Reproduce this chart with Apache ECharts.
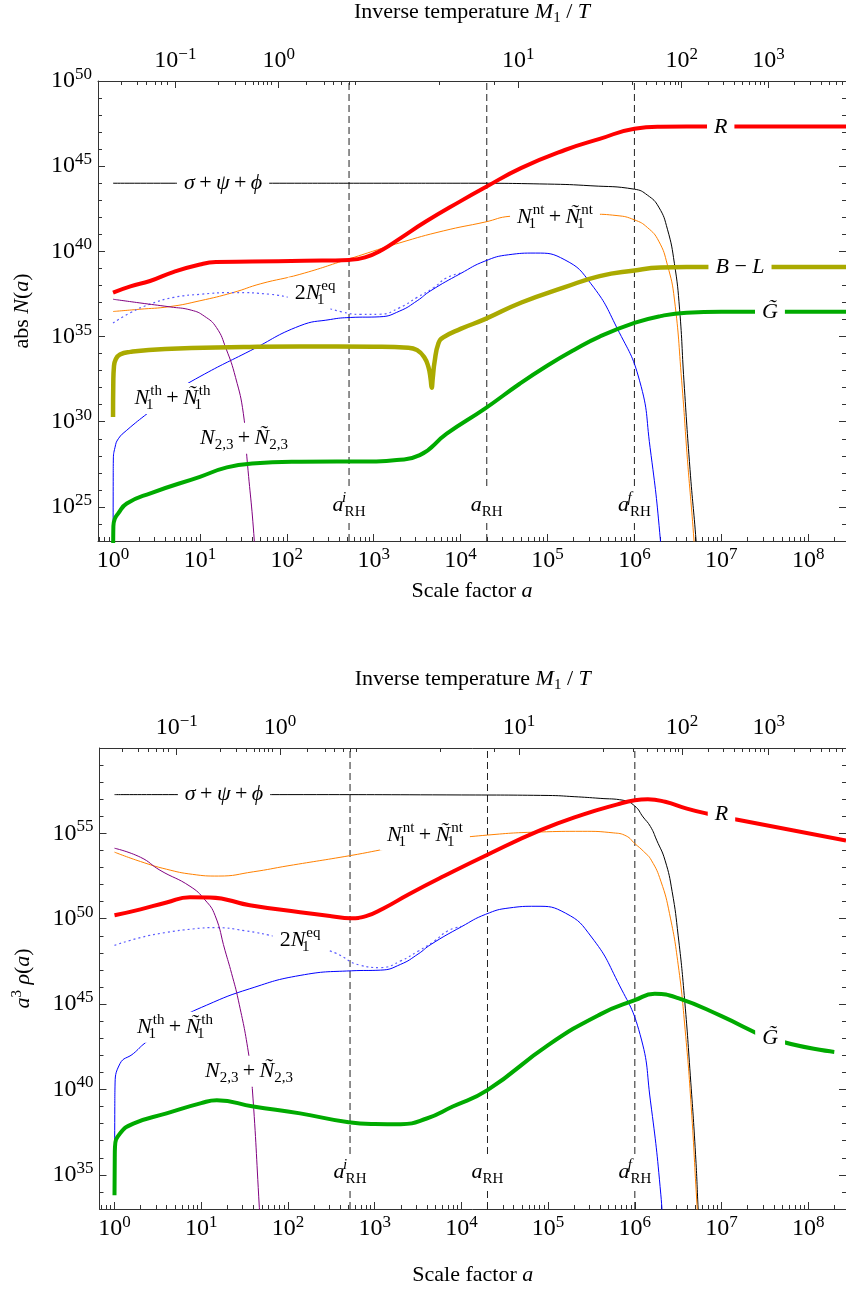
<!DOCTYPE html>
<html><head><meta charset="utf-8">
<script src="https://cdn.jsdelivr.net/npm/echarts@6/dist/echarts.min.js"></script>
<style>html,body{margin:0;padding:0;background:#fff}#c{width:846px;height:1293px}</style>
</head><body><div id="c"></div>
<script>
// ---------- DATA (pairs are [log10 a, log10 value]) ----------
// Panel 1: abs N(a)
const sigmaN = [[0,44.0],[1,44.0],[2,44.0],[3,44.0],[4,44.0],[5,43.95],[5.5,43.85],[6.0,43.65],[6.15,43.3],[6.28,42.6],[6.38,41.3],[6.46,39.3],[6.52,36.6],[6.57,32.4],[6.64,27.2],[6.71,23],[6.75,20]];
const radN = [[0,37.58],[0.2,37.95],[0.426,38.26],[0.7,38.8],[1.0,39.23],[1.185,39.37],[1.6,39.4],[2.2,39.45],[2.72,39.5],[2.9,39.65],[3.1,40.1],[3.3,40.75],[3.6,41.75],[4.0,42.95],[4.28,43.75],[4.7,44.9],[5.2,45.95],[5.6,46.6],[6.0,47.2],[6.3,47.32],[6.6,47.33],[8.435,47.33]];
const ntN = [[0,36.47],[0.3,36.6],[0.656,36.76],[1.0,37.1],[1.38,37.58],[1.7,38.1],[2.15,38.65],[2.73,39.58],[3.3,40.5],[3.8,41.2],[4.28,41.72],[4.57,42.06],[5.0,42.15],[5.5,42.18],[5.8,42.1],[6.0,41.85],[6.15,41.4],[6.28,40.6],[6.38,39.2],[6.46,37.2],[6.544,32.4],[6.61,27.8],[6.686,23],[6.72,20]];
const thN = [[0,20],[0.002,26.5],[0.0035,27.75],[0.023,28.5],[0.061,29.0],[0.158,29.5],[0.406,30.53],[0.7,31.7],[1.0,32.65],[1.58,34.17],[2.15,35.63],[2.5,36.0],[2.73,36.12],[3.07,36.16],[3.3,36.5],[3.5,37.1],[3.65,37.67],[4.0,38.7],[4.28,39.43],[4.55,39.8],[4.86,39.9],[5.2,39.5],[5.5,38.1],[5.8,35.5],[6.06,32.4],[6.18,28.5],[6.30,23.0],[6.33,20]];
const eqN = [[0,35.79],[0.2,36.4],[0.426,36.9],[0.7,37.3],[1.0,37.48],[1.38,37.58],[1.81,37.48],[2.1,37.2],[2.4,36.8],[2.63,36.45],[2.85,36.3],[3.07,36.31],[3.3,36.7],[3.5,37.3],[3.69,37.87],[3.84,38.45],[4.0,38.72]];
const heavyN = [[0,37.19],[0.3,36.98],[0.656,36.74],[0.9,36.55],[1.05,36.2],[1.19,35.53],[1.3,34.3],[1.41,32.6],[1.5,30.47],[1.54,27.94],[1.626,23.0],[1.64,21]];
const blN = [[0,30.28],[0.003,32.3],[0.01,33.2],[0.03,33.65],[0.08,33.95],[0.2,34.1],[0.6,34.27],[1.5,34.38],[2.15,34.42],[3.0,34.4],[3.4,34.35],[3.5,34.2],[3.58,33.8],[3.63,33.2],[3.655,32.5],[3.667,32.0],[3.68,32.6],[3.70,33.5],[3.745,34.6],[3.8,34.95],[4.0,35.45],[4.28,36.02],[4.7,37.0],[5.2,37.9],[5.6,38.55],[6.0,38.88],[6.3,39.05],[6.6,39.08],[8.435,39.08]];
const gravN = [[0,20],[0.002,23.0],[0.004,23.85],[0.02,24.3],[0.061,24.63],[0.158,25.2],[0.43,25.8],[1.0,26.77],[1.31,27.32],[1.6,27.55],[2.15,27.65],[3.0,27.67],[3.265,27.75],[3.53,28.04],[3.84,29.3],[4.28,30.77],[4.68,32.23],[5.0,33.3],[5.3,34.2],[5.6,35.0],[6.0,35.8],[6.3,36.2],[6.6,36.4],[7.0,36.45],[8.435,36.45]];

// Panel 2: a^3 rho(a)
const sigmaR = [[0,57.27],[2,57.27],[4,57.25],[5.0,57.22],[5.3,57.15],[5.6,57.05],[5.864,56.94],[6.0,56.6],[6.095,55.96],[6.18,55.4],[6.252,54.6],[6.348,53.43],[6.43,51.6],[6.5,49.0],[6.57,45.5],[6.64,40.8],[6.7,36.2],[6.73,33],[6.75,31]];
const radR = [[0,50.2],[0.3,50.55],[0.6,50.95],[0.87,51.26],[1.1,51.25],[1.56,50.79],[2.14,50.38],[2.5,50.15],[2.72,50.03],[2.9,50.15],[3.1,50.6],[3.4,51.45],[3.8,52.5],[4.3,53.75],[4.906,55.17],[5.4,56.1],[5.8,56.7],[6.0,56.94],[6.15,57.0],[6.35,56.85],[6.6,56.45],[6.829,56.16],[7.155,55.83],[8.435,54.58]];
const ntR = [[0,53.9],[0.3,53.35],[0.6,52.9],[0.9,52.6],[1.2,52.5],[1.6,52.75],[2.0,53.1],[2.72,53.7],[3.2,54.15],[3.7,54.55],[4.3,54.9],[4.9,55.08],[5.4,55.12],[5.75,55.03],[5.9,54.85],[6.0,54.4],[6.1,53.95],[6.19,53.43],[6.3,52.2],[6.4,50.3],[6.5,47.3],[6.58,43.5],[6.65,39],[6.72,33],[6.75,31]];
const thR = [[0,34],[0.0035,39.0],[0.0057,40.15],[0.063,41.51],[0.217,42.1],[0.352,42.72],[0.7,44.0],[1.063,44.94],[1.56,45.9],[2.14,46.68],[2.73,46.95],[3.07,46.99],[3.3,47.33],[3.5,47.93],[3.65,48.5],[4.0,49.53],[4.28,50.26],[4.55,50.63],[4.86,50.73],[5.2,50.33],[5.5,48.93],[5.8,46.33],[6.06,43.23],[6.18,39.33],[6.30,33.83],[6.33,31]];
const eqR = [[0,48.44],[0.3,48.9],[0.6,49.2],[0.9,49.4],[1.16,49.48],[1.5,49.3],[1.9,48.9],[2.3,48.35],[2.544,48.0],[2.83,47.28],[3.07,47.14],[3.3,47.53],[3.5,48.1],[3.69,48.7],[3.84,49.28],[4.0,49.55]];
const heavyR = [[0,54.13],[0.3,53.6],[0.525,52.84],[0.871,51.9],[1.044,51.1],[1.159,50.2],[1.274,48.15],[1.35,46.8],[1.428,45.23],[1.543,42.2],[1.589,40.06],[1.67,33.1],[1.68,32]];
const gravR = [[0,33.8],[0.003,36.0],[0.0057,36.64],[0.063,37.42],[0.217,38.0],[0.6,38.6],[1.0,39.2],[1.18,39.37],[1.6,39.0],[2.14,38.6],[2.7,38.08],[3.0,37.98],[3.3,37.97],[3.6,38.3],[3.9,39.0],[4.3,39.96],[5.0,42.6],[5.6,44.4],[6.0,45.23],[6.23,45.6],[6.5,45.35],[7.0,44.3],[7.56,43.0],[8.3,42.2]];

// reheating markers (scale factor a)
const aRH = [520, 2e4, 1e6];

// tick labels / positions
const bottomTickExps = [0,1,2,3,4,5,6,7,8];
const yTickExps1 = [25,30,35,40,45,50];
const yTickExps2 = [35,40,45,50,55,60];
const topTickLabels = ['\u22121','0','1','2','3'];
const topTickLogA = [0.717, 1.907, 4.664, 6.544, 7.543];
const topMinorLogA = [0.092,0.273,0.388,0.487,0.560,0.625,1.216,1.407,1.519,1.608,1.672,1.723,1.772,1.824,2.221,2.425,2.535,2.632,2.716,2.788,3.755,4.384,5.635,5.976,6.141,6.256,6.340,6.409,6.467,6.505,6.845,7.021,7.146,7.243,7.322,7.389,7.447,7.498,7.844,8.020,8.145,8.242,8.321,8.388];

// annotation anchors [key, log10 a, log10 value]
const labels1 = [['sig',1.266,44.0],['R',6.993,47.3],['nt',5.086,42.0],['BL',7.215,39.08],['G',7.56,36.45],['eq',2.325,37.56],['th',0.685,31.37],['n23',1.507,29.03],['ai',2.716,25.12],['a',4.301,25.12],['af',6.0,25.12]];
const labels2 = [['sig',1.263,57.27],['R',6.999,56.1],['nt',3.58,54.9],['G',7.56,43.0],['eq',2.14,48.74],['th',0.698,43.65],['n23',1.551,41.07],['ai',2.716,35.15],['a',4.301,35.15],['af',6.0,35.15]];

// ---------- CHART ----------
const FONT = 'Liberation Serif';
const AX = '#333';
const X_MIN = Math.pow(10,-0.173), X_MAX = Math.pow(10,8.435);
const P = arr => arr.map(p => [Math.pow(10,p[0]), Math.pow(10,p[1])]);
const E = e => Math.pow(10,e);

const tickRich = {
  b:{fontFamily:FONT,fontSize:24,lineHeight:30,color:'#000'},
  s:{fontFamily:FONT,fontSize:17,lineHeight:18,verticalAlign:'top',color:'#000'}
};
const nameRich = {
  n:{fontFamily:FONT,fontSize:22,lineHeight:28,color:'#000'},
  i:{fontFamily:FONT,fontSize:22,lineHeight:28,fontStyle:'italic',color:'#000'},
  u:{fontFamily:FONT,fontSize:15,lineHeight:22,verticalAlign:'bottom',color:'#000'},
  s:{fontFamily:FONT,fontSize:15,lineHeight:17,verticalAlign:'top',color:'#000'}
};
const labRich = {
  n:{fontFamily:FONT,fontSize:22,lineHeight:29,color:'#000'},
  i:{fontFamily:FONT,fontSize:22,lineHeight:29,fontStyle:'italic',color:'#000'},
  s:{fontFamily:FONT,fontSize:15,lineHeight:16,verticalAlign:'top',color:'#000'},
  sw:{fontFamily:FONT,fontSize:15,lineHeight:16,verticalAlign:'top',fontStyle:'italic',width:1,color:'#000'},
  u:{fontFamily:FONT,fontSize:15,lineHeight:21,verticalAlign:'bottom',color:'#000'},
  uw:{fontFamily:FONT,fontSize:15,lineHeight:21,verticalAlign:'bottom',width:1,color:'#000'}
};
const PL = '{n|\u2009+\u2009}';
const labText = {
  sig:'{i|σ}'+PL+'{i|ψ}'+PL+'{i|ϕ}',
  R:'{i|R}',
  nt:'{i|N}{uw|1}{s|nt}'+PL+'{i|Ñ}{uw|1}{s|nt}',
  BL:'{i|B}{n| − }{i|L}',
  G:'{i|G\u0303}',
  eq:'{n|2}{i|N}{uw|1}{s|eq}',
  th:'{i|N}{uw|1}{s|th}'+PL+'{i|Ñ}{uw|1}{s|th}',
  n23:'{i|N}{u|2,3}'+PL+'{i|Ñ}{u|2,3}',
  ai:'{i|a}{sw|i}{u|RH}',
  a:'{i|a}{u|RH}',
  af:'{i|a}{sw|f}{u|RH}'
};
const tightKeys = ['ai','a','af'];

const bottomMajor = bottomTickExps.map(E);
const bottomMinor = [];
for (let n=-1;n<=8;n++) for (let k=2;k<=9;k++){const v=k*Math.pow(10,n); if(v>X_MIN&&v<X_MAX) bottomMinor.push(v);}
const topMajor = topTickLogA.map(E);
const topMinor = topMinorLogA.map(E);

function expLabel(v){ return '{b|10}{s|'+Math.round(Math.log10(v))+'}'; }
function topLabel(v){
  const l = Math.log10(v); let bi=0, bd=1e9;
  topTickLogA.forEach((t,i)=>{const d=Math.abs(t-l); if(d<bd){bd=d;bi=i;}});
  return '{b|10}{s|'+topTickLabels[bi]+'}';
}

function xAxes(g, gapB, gapT){
  const c = {gridIndex:g,type:'log',logBase:10,min:X_MIN,max:X_MAX,splitLine:{show:false},axisPointer:{show:false}};
  const line = {show:true,onZero:false,lineStyle:{color:AX,width:1}};
  return [
    Object.assign({},c,{position:'bottom',axisLine:line,
      axisTick:{show:true,inside:true,length:7,customValues:bottomMajor,lineStyle:{color:AX}},
      axisLabel:{show:true,customValues:bottomMajor,formatter:expLabel,rich:tickRich,margin:5},
      name:'{n|Scale factor }{i|a}',nameLocation:'middle',nameGap:gapB,nameMoveOverlap:false,nameTextStyle:{rich:nameRich}}),
    Object.assign({},c,{position:'bottom',axisLine:{show:false,onZero:false},
      axisTick:{show:true,inside:true,length:4,customValues:bottomMinor,lineStyle:{color:AX}},axisLabel:{show:false}}),
    Object.assign({},c,{position:'top',axisLine:line,
      axisTick:{show:true,inside:true,length:7,customValues:topMajor,lineStyle:{color:AX}},
      axisLabel:{show:true,customValues:topMajor,formatter:topLabel,rich:tickRich,margin:5},
      name:'{n|Inverse temperature }{i|M}{u|1}{n| / }{i|T}',nameLocation:'middle',nameGap:gapT,nameMoveOverlap:false,nameTextStyle:{rich:nameRich}}),
    Object.assign({},c,{position:'top',axisLine:{show:false,onZero:false},
      axisTick:{show:true,inside:true,length:4,customValues:topMinor,lineStyle:{color:AX}},axisLabel:{show:false}})
  ];
}
function yAxes(g, lo, hi, majExps, name, gap){
  const c = {gridIndex:g,type:'log',logBase:10,min:E(lo),max:E(hi),splitLine:{show:false},axisPointer:{show:false}};
  const maj = majExps.map(E);
  const minr = []; for(let e=lo+1;e<hi;e++){ if(majExps.indexOf(e)<0) minr.push(E(e)); }
  const line = {show:true,onZero:false,lineStyle:{color:AX,width:1}};
  return [
    Object.assign({},c,{position:'left',axisLine:line,
      axisTick:{show:true,inside:true,length:7,customValues:maj,lineStyle:{color:AX}},
      axisLabel:{show:true,customValues:maj,formatter:expLabel,rich:tickRich,margin:6},
      name:name,nameLocation:'middle',nameGap:gap,nameRotate:90,nameMoveOverlap:false,nameTextStyle:{rich:nameRich}}),
    Object.assign({},c,{position:'left',axisLine:{show:false,onZero:false},
      axisTick:{show:true,inside:true,length:4,customValues:minr,lineStyle:{color:AX}},axisLabel:{show:false}}),
    Object.assign({},c,{position:'right',axisLine:line,
      axisTick:{show:true,inside:true,length:7,customValues:maj,lineStyle:{color:AX}},axisLabel:{show:false}}),
    Object.assign({},c,{position:'right',axisLine:{show:false,onZero:false},
      axisTick:{show:true,inside:true,length:4,customValues:minr,lineStyle:{color:AX}},axisLabel:{show:false}})
  ];
}

function curve(name, d, xi, color, width, extra){
  return Object.assign({type:'line',name:name,xAxisIndex:xi,yAxisIndex:xi,data:P(d),showSymbol:false,symbol:'none',
    smooth:0.5,clip:true,silent:true,z:3,
    lineStyle:{color:color,width:width}},extra||{});
}
function dashes(xi, lo, hi){
  return aRH.map(a=>({type:'line',xAxisIndex:xi,yAxisIndex:xi,data:[[a,E(lo)],[a,E(hi)]],showSymbol:false,symbol:'none',silent:true,z:2,
    lineStyle:{color:'#222',width:1,type:[7,4]}}));
}
function labelSeries(xi, arr){
  return {type:'scatter',xAxisIndex:xi,yAxisIndex:xi,silent:true,z:10,symbol:'circle',symbolSize:1,
    itemStyle:{color:'rgba(255,255,255,0)'},
    data:arr.map(r=>{
      const item = {value:[E(r[1]),E(r[2])],key:r[0]};
      if (tightKeys.indexOf(r[0])>=0) item.label = {padding:[1,1]};
      return item;
    }),
    label:{show:true,position:'inside',formatter:p=>labText[p.data.key],rich:labRich,color:'#000',
      textBorderWidth:0,textBorderColor:'transparent',textShadowBlur:0,opacity:1,backgroundColor:'#ffffff',padding:[1,7]}};
}

const chart = echarts.init(document.getElementById('c'),null,{renderer:'canvas'});
const xa = xAxes(0,36,55).concat(xAxes(1,52,55));
const ya = yAxes(0,23,50,yTickExps1,'{n|abs }{i|N}{n|(}{i|a}{n|)}',62)
  .concat(yAxes(1,33,60,yTickExps2,'{i|a}{s|3}{n| }{i|ρ}{n|(}{i|a}{n|)}',62));
const series = [].concat(
  dashes(0,23,50), dashes(4,33,60),
  [
    curve('sigma',sigmaN,0,'#000',1),
    curve('nt',ntN,0,'#ff8000',1),
    curve('eq',eqN,0,'#5a5aff',1.2,{lineStyle:{color:'#5a5aff',width:1.2,type:[2,3]}}),
    curve('th',thN,0,'#0000ff',1),
    curve('heavy',heavyN,0,'#800080',1),
    curve('BL',blN,0,'#aaaa00',4.5),
    curve('G',gravN,0,'#00aa00',4),
    curve('R',radN,0,'#ff0000',4),
    curve('sigma',sigmaR,4,'#000',1),
    curve('nt',ntR,4,'#ff8000',1),
    curve('eq',eqR,4,'#5a5aff',1.2,{lineStyle:{color:'#5a5aff',width:1.2,type:[2,3]}}),
    curve('th',thR,4,'#0000ff',1),
    curve('heavy',heavyR,4,'#800080',1),
    curve('G',gravR,4,'#00aa00',4),
    curve('R',radR,4,'#ff0000',4),
    labelSeries(0,labels1), labelSeries(4,labels2)
  ]);
chart.setOption({
  animation:false,
  backgroundColor:'#fff',
  grid:[{left:98,top:79,width:748,height:462},{left:99.5,top:748,width:746.5,height:461}],
  xAxis:xa, yAxis:ya, series:series
});
</script></body></html>
